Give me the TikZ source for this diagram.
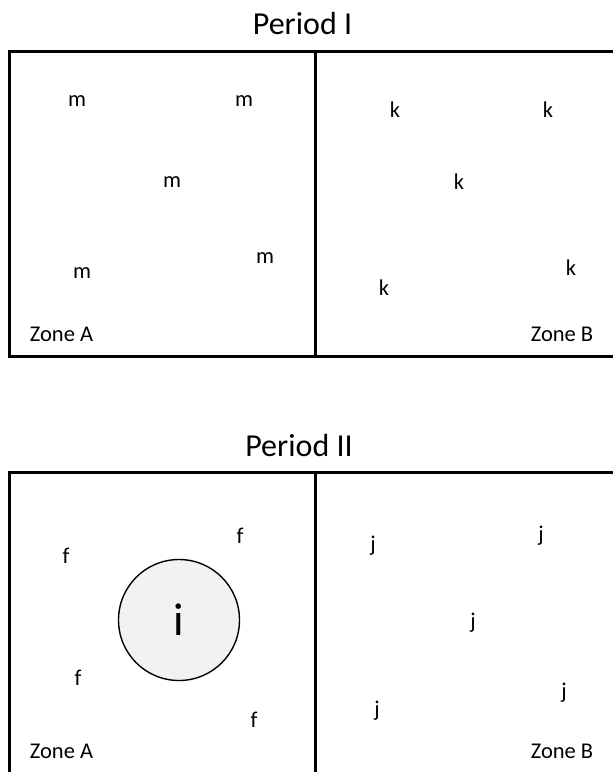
\documentclass[tikz,border=0pt]{standalone}
\usepackage{fontspec}
\setmainfont{Carlito}
\begin{document}
\begin{tikzpicture}[x=1pt,y=-1pt,
  lbl/.style={inner sep=0pt,font=\fontsize{22.5}{22.5}\selectfont},
  ttl/.style={inner sep=0pt,font=\fontsize{32}{32}\selectfont},
  frame/.style={draw=black,line width=3pt},
  disc/.style={circle,draw=black,line width=1.4pt,fill=black!5,minimum size=121pt,inner sep=0pt,font=\fontsize{46}{46}\selectfont}]
\useasboundingbox (0,0) rectangle (613,772);
\begin{scope}
\clip (0,0) rectangle (613,772);
% Period I
\node[ttl] (t1) at (302.5,23) {Period I};
\draw[frame] (9.5,51) rectangle (620,356);
\draw[frame] (315.5,51) -- (315.5,356);
\node[lbl] (m1) at (77,101) {m};
\node[lbl] (m2) at (244,101) {m};
\node[lbl] (m3) at (172,182) {m};
\node[lbl] (m4) at (82,273) {m};
\node[lbl] (m5) at (265,258) {m};
\node[lbl] (k1) at (395,110) {k};
\node[lbl] (k2) at (548,110) {k};
\node[lbl] (k3) at (459,182) {k};
\node[lbl] (k4) at (384,288) {k};
\node[lbl] (k5) at (571,268) {k};
\node[lbl] (za1) at (61.5,334.5) {Zone A};
\node[lbl] (zb1) at (562,334.5) {Zone B};
% Period II
\node[ttl] (t2) at (299,445) {Period II};
\draw[frame] (9.5,472) rectangle (620,800);
\draw[frame] (315.5,472) -- (315.5,800);
\node[disc] (i) at (179,620) {i};
\node[lbl] (f1) at (240,536) {f};
\node[lbl] (f2) at (66,556) {f};
\node[lbl] (f3) at (78,678) {f};
\node[lbl] (f4) at (254,720) {f};
\node[lbl] (j1) at (373,546) {j};
\node[lbl] (j2) at (541,536) {j};
\node[lbl] (j3) at (473,623) {j};
\node[lbl] (j4) at (377,711) {j};
\node[lbl] (j5) at (564,693) {j};
\node[lbl] (za2) at (61.5,751) {Zone A};
\node[lbl] (zb2) at (562,751) {Zone B};
\end{scope}
\end{tikzpicture}
\end{document}
